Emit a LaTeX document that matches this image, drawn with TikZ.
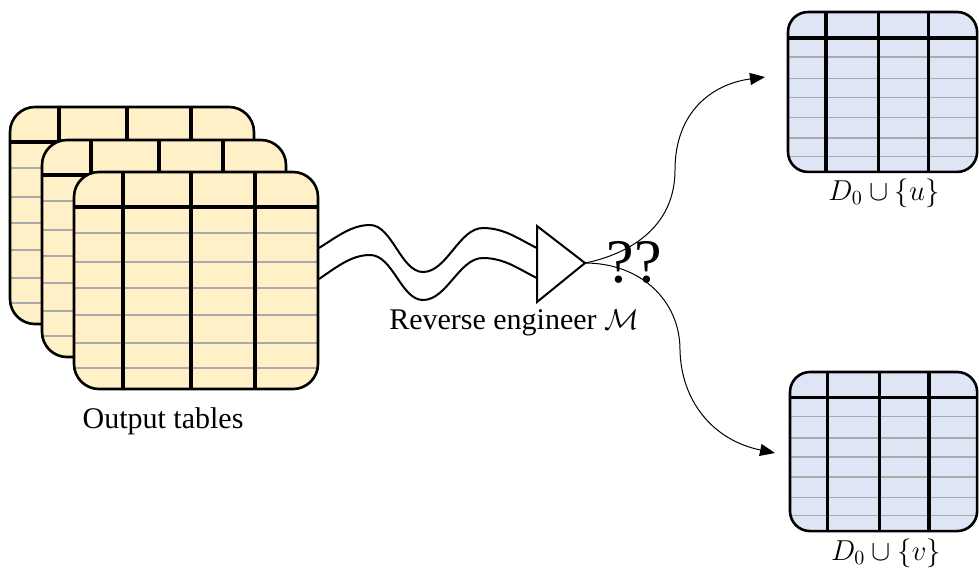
\documentclass[tikz,border=0pt]{standalone}
\usepackage{fontspec}
\setmainfont{Liberation Serif}
\usetikzlibrary{arrows.meta}
\definecolor{tyellow}{RGB}{255,240,200}
\definecolor{tblue}{RGB}{222,229,245}
\definecolor{tgray}{RGB}{170,170,170}
\tikzset{
  grayline/.style={draw=tgray, line width=0.75pt},
  thickline/.style={draw=black, line width=1.7pt},
  border/.style={draw=black, line width=1.3pt},
  wave/.style={draw=black, line width=1pt},
  flow/.style={draw=black, line width=0.5pt, -{Triangle[length=7.5pt,width=6pt]}},
  lbl/.style={font=\fontsize{15}{18}\selectfont, inner sep=0pt},
  setlbl/.style={inner sep=0pt, font=\fontsize{14}{17}\selectfont}
}
\newcommand\drawtable[6]{%
  \begin{scope}[shift={(#1,#2)}, xscale=#3, yscale=#4]
    \fill[#5, rounded corners=#6] (0,0) rectangle (244,217);
    \begin{scope}
      \clip[rounded corners=#6] (0,0) rectangle (244,217);
      \foreach \r in {61,90,116,143,171,196} \draw[grayline] (0,\r) -- (244,\r);
      \draw[thickline] (0,35) -- (244,35);
      \foreach \c in {49,117,181} \draw[thickline] (\c,0) -- (\c,217);
    \end{scope}
    \draw[border, rounded corners=#6] (0,0) rectangle (244,217);
  \end{scope}}
\begin{document}
\begin{tikzpicture}[x=0.5pt, y=-0.5pt]
\useasboundingbox (0,0) rectangle (979,569);
% stacked output tables
\drawtable{10}{107}{1}{1}{tyellow}{12.5pt}
\drawtable{42}{140}{1}{1}{tyellow}{12.5pt}
\drawtable{74}{172}{1}{1}{tyellow}{12.5pt}
\node[lbl] (outlbl) at (163,421) {Output tables};
% result tables
\drawtable{788}{12}{0.775}{0.737}{tblue}{10pt}
\drawtable{790}{372}{0.767}{0.733}{tblue}{10pt}
\node[setlbl] (lu) at (884,193) {$D_0 \cup \{u\}$};
\node[setlbl] (lv) at (886,553) {$D_0 \cup \{v\}$};
% coordinates
\coordinate (w1s) at (319,248);
\coordinate (w2s) at (319,279);
\coordinate (w1e) at (537,248);
\coordinate (w2e) at (537,278);
\coordinate (apex) at (585,263);
\coordinate (tu) at (765,77);
\coordinate (tv) at (775,453);
% model triangle
\draw[wave, line join=miter] (537,226) -- (apex) -- (537,302) -- cycle;
% wavy lines
\draw[wave] (w1s) .. controls (338,236) and (352,225) .. (370,225)
  .. controls (392,225) and (401,272) .. (423,272)
  .. controls (447,272) and (459,228) .. (483,228)
  .. controls (505,228) and (520,240) .. (w1e);
\draw[wave] (w2s) .. controls (338,266) and (352,255) .. (370,255)
  .. controls (393,255) and (401,300) .. (423,300)
  .. controls (447,300) and (459,258) .. (483,258)
  .. controls (505,258) and (520,270) .. (w2e);
\node[lbl] (rev) at (514,323) {Reverse engineer $\mathcal{M}$};
\node[inner sep=0pt, font=\fontsize{31}{36}\selectfont] (qq) at (634,262) {??};
% branching arrows
\draw[flow] (apex) .. controls (625,255) and (675,230) .. (675,170)
  .. controls (675,112) and (712,84) .. (tu);
\draw[flow] (apex) .. controls (640,263) and (680,300) .. (680,350)
  .. controls (681,400) and (712,440) .. (tv);
\end{tikzpicture}
\end{document}
